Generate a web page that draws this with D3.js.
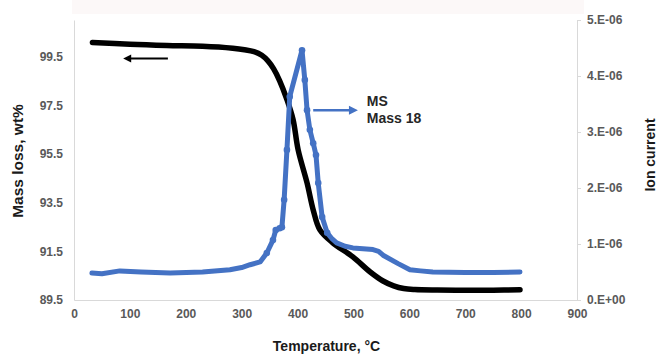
<!DOCTYPE html>
<html>
<head>
<meta charset="utf-8">
<script src="https://cdn.jsdelivr.net/npm/d3@7"></script>
<style>
  body { margin: 0; background: #fff; }
  text { font-family: "Liberation Sans", Arial, sans-serif; font-weight: bold; }
</style>
</head>
<body>
<div id="chart"></div>
<script>
// TGA (mass loss) curve, left axis
const tgaTemp = [33, 100, 166, 230, 284, 305, 322, 336, 347, 357, 368, 381, 392, 401, 417, 428, 440, 463, 499, 530, 553, 572, 590, 610, 650, 700, 750, 798];
const tgaMass = [100.08, 100.0, 99.95, 99.92, 99.84, 99.78, 99.7, 99.55, 99.32, 99.0, 98.5, 97.73, 96.91, 95.67, 94.31, 93.2, 92.38, 91.85, 91.27, 90.65, 90.28, 90.08, 89.97, 89.93, 89.91, 89.9, 89.9, 89.92];

// MS mass 18 ion current, right axis (units of 1e-6)
const msTemp = [32, 50, 82, 120, 172, 230, 279, 300, 315, 333, 345, 356, 361, 368, 372, 376, 381, 386, 408, 413, 417, 422, 428, 433, 437, 444, 453, 462, 470, 485, 499, 535, 545, 553, 580, 601, 620, 642, 700, 750, 798];
const msCurrent = [0.48, 0.47, 0.52, 0.5, 0.48, 0.5, 0.54, 0.58, 0.63, 0.68, 0.84, 1.07, 1.25, 1.28, 1.30, 1.79, 2.68, 3.63, 4.46, 3.93, 3.39, 3.04, 2.80, 2.59, 2.09, 1.48, 1.20, 1.09, 1.02, 0.96, 0.93, 0.90, 0.87, 0.80, 0.65, 0.54, 0.52, 0.50, 0.49, 0.49, 0.50];

// ticks
const xTicks = [0, 100, 200, 300, 400, 500, 600, 700, 800, 900];
const yLeftTicks = [89.5, 91.5, 93.5, 95.5, 97.5, 99.5];
const yRightTicks = [0, 1, 2, 3, 4, 5];
const yRightLabels = ["0.E+00", "1.E-06", "2.E-06", "3.E-06", "4.E-06", "5.E-06"];

const W = 657, H = 356;
const margin = {top: 20, right: 80, bottom: 56, left: 74};
const width = W - margin.left - margin.right;
const height = H - margin.top - margin.bottom;

const svgRoot = d3.select("#chart").append("svg")
  .attr("width", W)
  .attr("height", H);

// faint band at the top of the original image
svgRoot.append("rect")
  .attr("x", 72).attr("y", 0)
  .attr("width", 512).attr("height", 14)
  .attr("fill", "#fcf8f8");

const svg = svgRoot.append("g")
  .attr("transform", `translate(${margin.left},${margin.top})`);

// scales
const x = d3.scaleLinear().domain([0, 900]).range([0, width]);
const yL = d3.scaleLinear().domain([89.5, 101.0]).range([height, 0]);
const yR = d3.scaleLinear().domain([0, 5]).range([height, 0]);

const axisColor = "#d9d9d9";
const tickText = "#595959";

// left axis
const gL = svg.append("g")
  .call(d3.axisLeft(yL).tickValues(yLeftTicks).tickSize(0).tickPadding(11).tickFormat(d3.format(".1f")));
gL.select(".domain").attr("stroke", axisColor);
gL.selectAll("text").attr("fill", tickText).style("font-size", "12px");

// bottom axis
const gB = svg.append("g")
  .attr("transform", `translate(0,${height})`)
  .call(d3.axisBottom(x).tickValues(xTicks).tickSize(0).tickPadding(9).tickFormat(d3.format("d")));
gB.select(".domain").attr("stroke", axisColor);
gB.selectAll("text").attr("fill", tickText).style("font-size", "12px");

// right axis
const gR = svg.append("g")
  .attr("transform", `translate(${width},0)`)
  .call(d3.axisRight(yR).tickValues(yRightTicks).tickSizeInner(4).tickSizeOuter(0).tickPadding(6)
    .tickFormat((d, i) => yRightLabels[i]));
gR.select(".domain").attr("stroke", axisColor);
gR.selectAll("line").attr("stroke", axisColor);
gR.selectAll("text").attr("fill", tickText).style("font-size", "12px");

// axis titles
svg.append("text")
  .attr("x", width / 2 + 1)
  .attr("y", height + 51)
  .attr("text-anchor", "middle")
  .style("font-size", "14px")
  .attr("fill", "#1a1a1a")
  .text("Temperature, °C");

svg.append("text")
  .attr("transform", "rotate(-90)")
  .attr("x", -141)
  .attr("y", -margin.left + 23)
  .attr("text-anchor", "middle")
  .style("font-size", "15.5px")
  .attr("fill", "#1a1a1a")
  .text("Mass loss, wt%");

svg.append("text")
  .attr("transform", "rotate(-90)")
  .attr("x", -135)
  .attr("y", width + 78)
  .attr("text-anchor", "middle")
  .style("font-size", "14px")
  .attr("fill", "#1a1a1a")
  .text("Ion current");

// TGA line
const tga = tgaTemp.map((t, i) => ({t, v: tgaMass[i]}));
svg.append("path")
  .datum(tga)
  .attr("fill", "none")
  .attr("stroke", "#000")
  .attr("stroke-width", 5.5)
  .attr("stroke-linecap", "round")
  .attr("stroke-linejoin", "round")
  .attr("d", d3.line().x(d => x(d.t)).y(d => yL(d.v)).curve(d3.curveCatmullRom));

// MS line with markers
const blue = "#4472c4";
const ms = msTemp.map((t, i) => ({t, v: msCurrent[i]}));
svg.append("path")
  .datum(ms)
  .attr("fill", "none")
  .attr("stroke", blue)
  .attr("stroke-width", 5)
  .attr("stroke-linecap", "round")
  .attr("stroke-linejoin", "round")
  .attr("d", d3.line().x(d => x(d.t)).y(d => yR(d.v)));

svg.selectAll("circle.ms")
  .data(ms.filter(d => d.t > 340 && d.t < 460))
  .enter()
  .append("circle")
    .attr("class", "ms")
    .attr("cx", d => x(d.t))
    .attr("cy", d => yR(d.v))
    .attr("r", 3.3)
    .attr("fill", blue);

// black arrow (points to left axis)
const arrowBlack = {from: 168, to: 88, v: 99.42};
svg.append("line")
  .attr("x1", x(arrowBlack.from)).attr("x2", x(arrowBlack.to) + 6)
  .attr("y1", yL(arrowBlack.v)).attr("y2", yL(arrowBlack.v))
  .attr("stroke", "#000").attr("stroke-width", 2);
svg.append("path")
  .attr("d", `M${x(arrowBlack.to)},${yL(arrowBlack.v)} l8,-4 l0,8 z`)
  .attr("fill", "#000");

// blue arrow (points to MS label)
const arrowBlue = {from: 428, to: 508, v: 3.39};
svg.append("line")
  .attr("x1", x(arrowBlue.from)).attr("x2", x(arrowBlue.to) - 7)
  .attr("y1", yR(arrowBlue.v)).attr("y2", yR(arrowBlue.v))
  .attr("stroke", blue).attr("stroke-width", 2.5);
svg.append("path")
  .attr("d", `M${x(arrowBlue.to)},${yR(arrowBlue.v)} l-9,-4.5 l0,9 z`)
  .attr("fill", blue);

const lbl = svg.append("text")
  .attr("x", x(524))
  .attr("y", yR(3.39) - 4)
  .style("font-size", "14px")
  .attr("fill", "#262626");
lbl.append("tspan").text("MS");
lbl.append("tspan").attr("x", x(524)).attr("dy", 17).text("Mass 18");
</script>
</body>
</html>
